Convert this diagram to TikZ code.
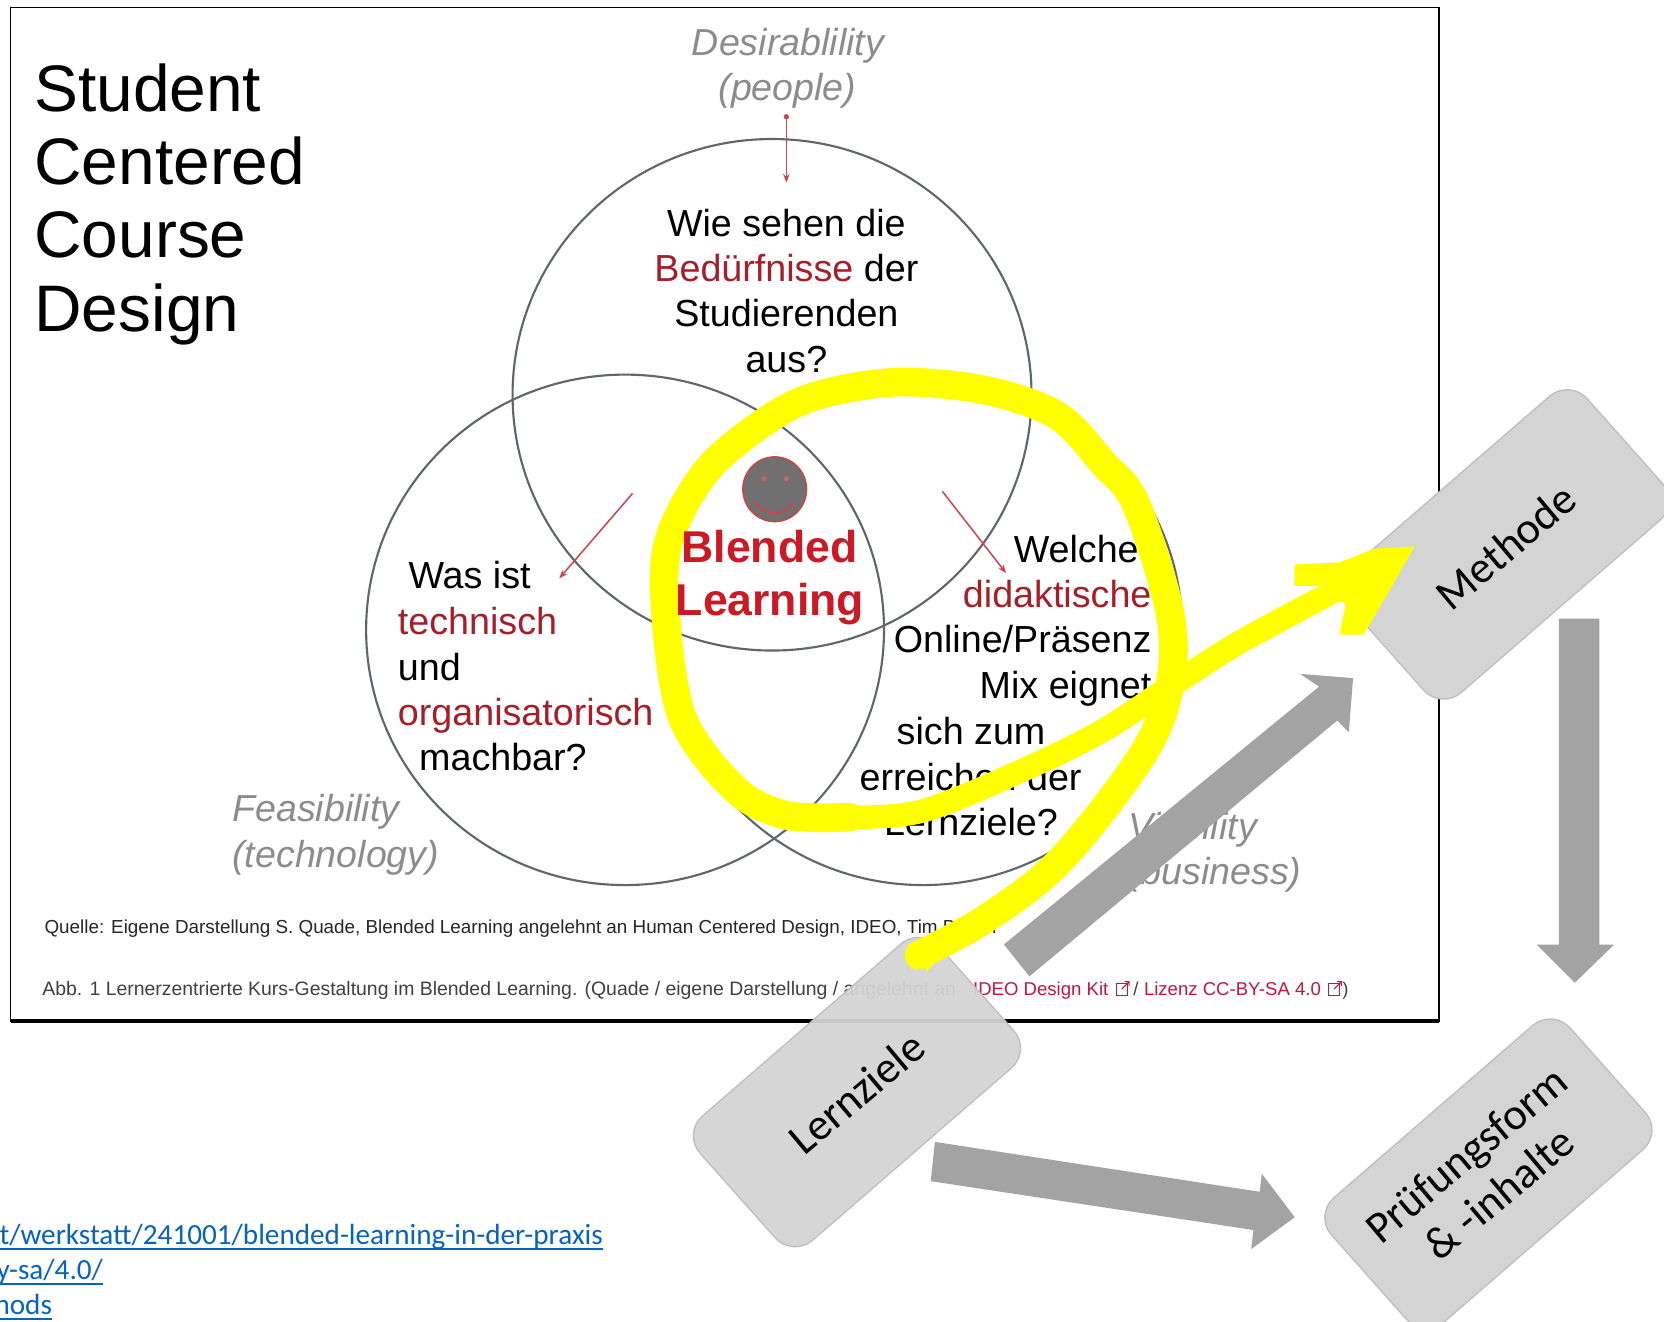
\documentclass[tikz,border=0pt]{standalone}
\usepackage{fontspec}
\setmainfont{Liberation Sans}
\newfontfamily\calib{Carlito}
\usetikzlibrary{arrows.meta,calc}
\definecolor{circ}{HTML}{5F666C}
\definecolor{dred}{HTML}{A81E28}
\definecolor{bred}{HTML}{CC1A24}
\definecolor{lred}{HTML}{D4404A}
\definecolor{ital}{HTML}{8C8C8C}
\definecolor{boxf}{HTML}{D4D4D4}
\definecolor{boxe}{HTML}{BEBEBE}
\definecolor{arr}{HTML}{A3A3A3}
\definecolor{link}{HTML}{0563C1}
\definecolor{pink}{HTML}{C8143C}
\definecolor{yel}{HTML}{FFFF00}
\definecolor{smile}{HTML}{707070}
\newcommand{\fs}[1]{\fontsize{#1}{#1}\selectfont}
\tikzset{
  every node/.style={inner sep=0pt,outer sep=0pt},
  titletxt/.style={anchor=base west,font=\fs{62}},
  ltxt/.style={anchor=base west,font=\fs{35.5}},
  rtxt/.style={anchor=base east,font=\fs{35.5}},
  ctxt/.style={anchor=base,font=\fs{35.5}},
  redword/.style={text=dred},
  ghost/.style={anchor=base west,font=\itshape\fs{35.4},text=ital},
  blend/.style={anchor=base,font=\bfseries\fs{42},text=bred},
  venn/.style={draw=circ,line width=2pt},
  redarrow/.style={draw=lred,line width=1.4pt,-{Stealth[length=8pt,width=6pt]}},
  blockarrow/.style={fill=arr,draw=none},
  boxshape/.style={fill=boxf,draw=boxe,line width=1.2pt,rounded corners=25pt},
  boxtxt/.style={font=\calib\fs{42},rotate=40,align=center},
  linktxt/.style={anchor=base east,font=\calib\fs{27.5},text=link},
  ulink/.style={draw=link,line width=1.3pt},
  scribble/.style={draw=yel,line join=round,line cap=round},
  extbox/.style={draw=pink,line width=1pt}
}
\begin{document}
\begin{tikzpicture}[x=1pt,y=-1pt]
\useasboundingbox (0,0) rectangle (1568,1245);
\fill[white] (0,0) rectangle (1568,1245);
% frame
\draw[black,line width=1.5pt,fill=white] (10,7) rectangle (1356,962);
\draw[black,line width=3.2pt] (10,962) -- (1356,962);
% title
\node[titletxt] (t1) at (32.5,105) {Student};
\node[titletxt] (t2) at (32.5,174) {Centered};
\node[titletxt] (t3) at (32.5,243) {Course};
\node[titletxt] (t4) at (32.5,312) {Design};
% venn
\draw[venn] (727.5,372) ellipse [x radius=244.5,y radius=241];
\draw[venn] (589,593.5) ellipse [x radius=244,y radius=240.5];
\draw[venn] (870,593.5) ellipse [x radius=244,y radius=240.5];
% ghost labels
\node[ghost,anchor=base] (d1) at (742.5,52) {Desirablility};
\node[ghost,anchor=base] (d2) at (742,95) {(people)};
\node[ghost] (f1) at (219,774) {Feasibility};
\node[ghost] (f2) at (219,817) {(technology)};
\node[ghost] (v1) at (1063,791) {Viability};
\node[ghost] (v2) at (1063,833) {(business)};
% top text
\node[ctxt] (a1) at (741,223) {Wie sehen die};
\node[ctxt] (a2) at (741,265.5) {\textcolor{dred}{Bedürfnisse} der};
\node[ctxt] (a3) at (741,308) {Studierenden};
\node[ctxt] (a4) at (741,351) {aus?};
% left text
\node[ltxt] (b1) at (385,555) {Was ist};
\node[ltxt,redword] (b2) at (375,598) {technisch};
\node[ltxt] (b3) at (375,641) {und};
\node[ltxt,redword] (b4) at (375,684) {organisatorisch};
\node[ltxt] (b5) at (395,726) {machbar?};
% right text
\node[rtxt] (c1) at (1073,530) {Welche};
\node[rtxt,redword] (c2) at (1085,572.5) {didaktische};
\node[rtxt] (c3) at (1085,615) {Online/Präsenz};
\node[rtxt] (c4) at (1085,658) {Mix eignet};
\node[ltxt] (c5) at (845,702) {sich zum};
\node[ltxt] (c6) at (810,745) {erreichen der};
\node[ltxt] (c7) at (833,787) {Lernziele?};
% smiley
\draw[fill=smile,draw=lred,line width=1.4pt] (730,461) ellipse [x radius=30,y radius=30.5];
\draw[fill=gray,draw=lred,line width=.8pt] (720,451) ellipse [x radius=3,y radius=3.5];
\draw[fill=gray,draw=lred,line width=.8pt] (741,451) ellipse [x radius=3,y radius=3.5];
\draw[lred,line width=1.6pt] (712,473) .. controls (720,487) and (740,487) .. (748,473);
% red arrows
\coordinate (ra1) at (741,110); \coordinate (ra2) at (741,172);
\coordinate (rb1) at (596,465); \coordinate (rb2) at (527,545);
\coordinate (rc1) at (888,463); \coordinate (rc2) at (948,540);
\draw[redarrow] (ra1) -- (ra2);
\fill[lred] (ra1) circle (2.5);
\draw[redarrow] (rb1) -- (rb2);
\draw[redarrow] (rc1) -- (rc2);
% captions
\node[anchor=base west,font=\fs{17.75},text=black!85] (q) at (42,880) {Quelle: Eigene Darstellung S. Quade, Blended Learning angelehnt an Human Centered Design, IDEO, Tim Brown};
\node[anchor=base west,font=\fs{18.3},text=black!75] (abb) at (40,938) {Abb. 1 Lernerzentrierte Kurs-Gestaltung im Blended Learning. (Quade / eigene Darstellung / angelehnt an};
\node[anchor=base west,font=\fs{17.5},text=pink] (ideo) at (917,938) {IDEO Design Kit};
\node[anchor=base west,font=\fs{17.5},text=black!75] (sl) at (1068,938) {/};
\node[anchor=base west,font=\fs{17.5},text=pink] (liz) at (1078,938) {Lizenz CC-BY-SA 4.0};
\node[anchor=base west,font=\fs{17.5},text=black!75] (par) at (1265,938) {)};
\draw[extbox] (1052,927) rectangle (1062,938);
\draw[extbox] (1057,932) -- (1064,925) (1060,925) -- (1064,925) -- (1064,929);
\draw[extbox] (1252,927) rectangle (1262,938);
\draw[extbox] (1257,932) -- (1264,925) (1260,925) -- (1264,925) -- (1264,929);
% links
\node[linktxt] (l1) at (568,1173) {t/werkstatt/241001/blended-learning-in-der-praxis};
\node[linktxt] (l2) at (97,1206) {y-sa/4.0/};
\node[linktxt] (l3) at (49,1239) {hods};
\draw[ulink] ([yshift=-4pt]l1.base west) -- ([yshift=-4pt]l1.base east);
\draw[ulink] ([yshift=-4pt]l2.base west) -- ([yshift=-4pt]l2.base east);
\draw[ulink] ([yshift=-4pt]l3.base west) -- ([yshift=-4pt]l3.base east);
% block arrows
\fill[blockarrow] (946,890) -- (1243,647) -- (1225,635) -- (1275,639) -- (1271,690) -- (1260,679) -- (970,920) -- cycle;
\fill[blockarrow] (1469,583) -- (1507,583) -- (1507,890) -- (1521,890) -- (1484,926) -- (1448,890) -- (1469,890) -- cycle;
\fill[blockarrow] (881,1076) -- (1187,1123) -- (1189,1106) -- (1220,1147) -- (1179,1177) -- (1181,1159) -- (877,1113) -- cycle;
% boxes
\draw[boxshape,fill opacity=.94] (868,873) -- (972,990) -- (747,1185) -- (643,1068) -- cycle;
\draw[boxshape] (1479,357) -- (1583,474) -- (1358,669) -- (1254,552) -- cycle;
\draw[boxshape] (1463,950) -- (1567,1067) -- (1342,1262) -- (1238,1145) -- cycle;
\node[boxtxt] (lz) at (807,1030) {Lernziele};
\node[boxtxt] (mt) at (1419,515) {Methode};
\node[boxtxt] (pf) at (1397,1106) {Prüfungsform\\[6pt]\& -inhalte};
% yellow scribble
\draw[scribble,line width=22pt] plot[smooth,tension=.55] coordinates {(800,770) (870,764) (972,722) (1040,688) (1095,652) (1160,610) (1218,578) (1274,548) (1300,532)};
\draw[scribble,line width=27pt] plot[smooth,tension=.55] coordinates {(866,900) (930,865) (1000,810) (1078,709) (1103,642) (1102,575) (1070,474) (1040,437) (997,392) (930,368) (849,360) (780,370) (732,390) (669,440) (631,507) (627,575) (643,676) (692,743) (740,768) (800,770)};
\fill[yel] (1220,532) -- (1262,530) -- (1295,517) -- (1333,515) -- (1310,555) -- (1285,598) -- (1262,598) -- (1268,570) -- (1250,552) -- (1220,552) -- cycle;
\fill[yel] (858,914) -- (862,890) -- (895,890) -- (873,916) -- (870,900) -- cycle;
% centre labels lie over the scribble
\node[blend] (e1) at (725,530) {Blended};
\node[blend] (e2) at (725.5,580) {Learning};
\end{tikzpicture}
\end{document}
